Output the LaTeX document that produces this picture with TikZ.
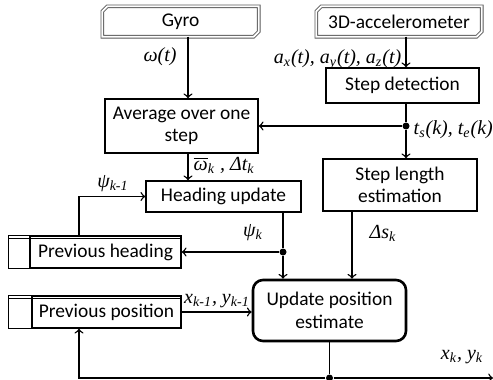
\documentclass[tikz,border=0pt]{standalone}
\usepackage{fontspec}
\setmainfont{Carlito}
\newfontfamily\lblfont{Liberation Serif}

\tikzset{
  blk/.style={draw, rectangle, align=center, inner sep=1pt},
  src/.style={rectangle, inner sep=1pt},
  srcline/.style={draw=black!65, double=white, double distance=0.9pt, line width=0.45pt},
  store/.style={draw, rectangle, inner sep=1pt},
  lbl/.style={font=\fontsize{10}{12}\selectfont\lblfont\itshape, inner sep=0pt},
  dot/.style={circle, fill, inner sep=0pt, minimum size=3.5pt},
}

\begin{document}
\begin{tikzpicture}[x=0.5pt, y=-0.5pt, font=\fontsize{9.7}{11.3}\selectfont, line width=0.7pt]
  \useasboundingbox (0,0) rectangle (493,380);

  % sensors
  \node[src, minimum width=77.5pt, minimum height=14.5pt] (gyro) at (180.5,21.5) {Gyro};
  \node[src, minimum width=82pt, minimum height=14.5pt] (accel) at (399,21.5) {3D-accelerometer};
  \foreach \s in {gyro, accel}
    \draw[srcline] ([xshift=2.5pt]\s.north west) -- (\s.north east) -- ([yshift=2.5pt]\s.south east)
      -- ([xshift=-2.5pt]\s.south east) -- (\s.south west) -- ([yshift=-2.5pt]\s.north west) -- cycle;

  % processing blocks
  \node[blk, minimum width=76.5pt, minimum height=27pt] (avg) at (181.5,126) {Average over one\\step};
  \node[blk, minimum width=76.5pt, minimum height=17.5pt] (stepdet) at (402.5,85.5) {Step detection};
  \node[blk, minimum width=77pt, minimum height=26pt] (steplen) at (400,185) {Step length\\estimation};
  \node[blk, minimum width=77.5pt, minimum height=15.5pt] (heading) at (223.5,196.5) {Heading update};
  \node[blk, minimum width=76.5pt, minimum height=30.5pt, rounded corners=5pt, line width=1.3pt] (update) at (329.5,310.5) {Update position\\estimate};

  % stores
  \node[store, minimum width=75.5pt, minimum height=16pt] (prevhead) at (105.5,252) {Previous heading};
  \node[store, minimum width=74.5pt, minimum height=16pt] (prevpos) at (106.5,312) {Previous position};
  \foreach \s/\w in {prevhead/10.5pt, prevpos/11.5pt}{
    \draw (\s.north west) -- ([xshift=-\w]\s.north west) -- ([xshift=-\w]\s.south west) -- (\s.south west);
    \draw ([xshift=-\w,yshift=-1.5pt]\s.north west) -- ([yshift=-1.5pt]\s.north east);
  }

  % columns
  \coordinate (c1) at (188,0);
  \coordinate (c2) at (406,0);
  \coordinate (c3) at (283,0);
  \coordinate (c4) at (352,0);
  \coordinate (c5) at (79,0);
  \coordinate (bot) at (0,378);
  \coordinate (out) at (493,378);

  \node[dot] (d1) at (c2 |- avg) {};
  \node[dot] (d2) at (c3 |- prevhead) {};
  \node[dot] (d3) at (update.south |- bot) {};

  % connectors
  \draw[->] (gyro.south -| c1) -- (avg.north -| c1);
  \draw[->] (accel.south -| c2) -- (stepdet.north -| c2);
  \draw (stepdet.south -| c2) -- (d1);
  \draw[->] (d1) -- (avg.east);
  \draw[->] (d1) -- (steplen.north -| c2);
  \draw[->] (avg.south -| c1) -- (heading.north -| c1);
  \draw[->] (prevhead.north -| c5) |- (heading.west);
  \draw (heading.south -| c3) -- (d2);
  \draw[->] (d2) -- (prevhead.east);
  \draw[->] (d2) -- (update.north -| c3);
  \draw[->] (steplen.south -| c4) -- (update.north -| c4);
  \draw[->] (prevpos.east) -- (prevpos.east -| update.west);
  \draw (update.south) -- (d3);
  \draw[->] (d3) -- (out);
  \draw[->] (d3) -- (d3 -| c5) -- (prevpos.south -| c5);

  % labels
  \node[lbl] (lom) at (160,57) {ω(t)};
  \node[lbl, anchor=east] (lacc) at (402,60) {a\textsubscript{x}(t), a\textsubscript{y}(t), a\textsubscript{z}(t)};
  \node[lbl, anchor=west] (lts) at (413,130) {t\textsubscript{s}(k), t\textsubscript{e}(k)};
  \node[lbl, anchor=west] (lwk) at (193,165) {$\overline{\hbox{ω}}$\textsubscript{k} , Δt\textsubscript{k}};
  \node[lbl] (lpsi1) at (113,184) {ψ\textsubscript{k-1}};
  \node[lbl] (lpsi) at (253,233) {ψ\textsubscript{k}};
  \node[lbl] (lds) at (383,233) {Δs\textsubscript{k}};
  \node[lbl] (lxy1) at (217,301) {x\textsubscript{k-1}, y\textsubscript{k-1}};
  \node[lbl] (lxy) at (462,357) {x\textsubscript{k}, y\textsubscript{k}};
\end{tikzpicture}
\end{document}
